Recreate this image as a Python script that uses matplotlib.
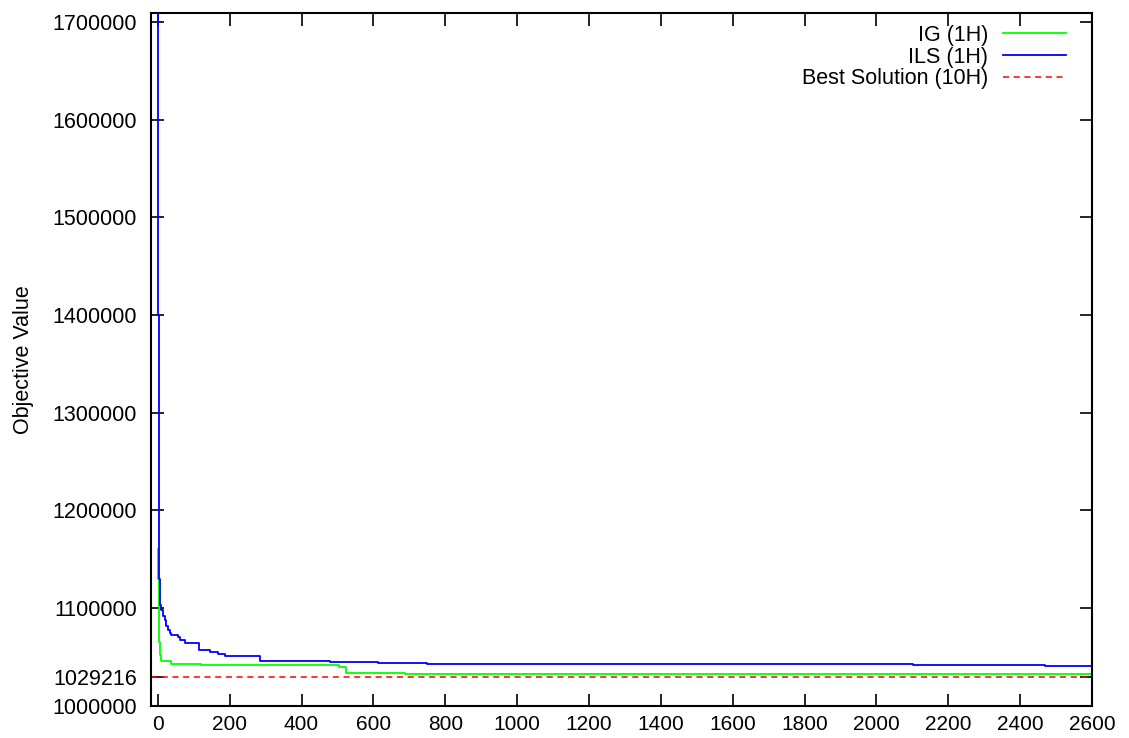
import matplotlib
matplotlib.use("Agg")
import matplotlib.pyplot as plt

# ---- data ----
ig_time = [0, 1, 2, 3, 4, 6, 8, 36, 120, 223, 503, 524, 689, 2600]
ig_value = [1160000, 1130000, 1100000, 1080000, 1065000, 1052000, 1046000,
            1042400, 1042000, 1041300, 1039300, 1033800, 1032800, 1032800]

ils_time = [0, 1, 2, 3, 4, 5, 7, 10, 14, 19, 24, 29, 34, 38, 56, 61, 75,
            114, 145, 168, 187, 284, 479, 612, 748, 2103, 2470, 2600]
ils_value = [1720000, 1400000, 1250000, 1170000, 1130000, 1110000, 1103000,
             1098000, 1092000, 1087700, 1082000, 1077500, 1074000, 1072400,
             1070600, 1067200, 1063900, 1057000, 1054700, 1052900, 1050900,
             1046100, 1044700, 1043700, 1042200, 1041200, 1040700, 1040700]

best_solution = 1029216

labels = ["IG (1H)", "ILS (1H)", "Best Solution (10H)"]
y_ticks = [1000000, 1029216, 1100000, 1200000, 1300000, 1400000, 1500000,
           1600000, 1700000]
x_ticks = list(range(0, 2601, 200))

plt.rcParams['font.family'] = ['Liberation Sans', 'DejaVu Sans']
FS = 15.5

fig = plt.figure(figsize=(11.29, 7.38), dpi=100)
ax = fig.add_axes([151 / 1129, 1 - 705.7 / 738, (1092 - 151) / 1129,
                   (705.7 - 12.7) / 738])

ax.plot(ig_time, ig_value, drawstyle='steps-post', color='#00ff00', lw=1.3,
        label=labels[0])
ax.plot(ils_time, ils_value, drawstyle='steps-post', color='#0000ff', lw=1.3,
        label=labels[1])
ax.axhline(best_solution, color='#ff0000', lw=1.1, ls=(0, (4, 3)),
           label=labels[2])

ax.set_xlim(-19, 2600)
ax.set_ylim(1000000, 1709500)
ax.set_xticks(x_ticks)
ax.set_yticks(y_ticks)
ax.set_xticklabels([str(t) for t in x_ticks])
ax.set_yticklabels([str(t) for t in y_ticks])
ax.tick_params(direction='in', length=9, width=1.2, top=True, right=True)
ax.tick_params(axis='y', pad=10, labelsize=FS)
ax.tick_params(axis='x', pad=7, labelsize=15)
for s in ax.spines.values():
    s.set_linewidth(1.5)

ax.set_ylabel("Objective Value", fontsize=FS)
ax.yaxis.set_label_coords(-0.1243, 0.5)

leg = ax.legend(loc='upper right', frameon=False, markerfirst=False,
                fontsize=FS, handlelength=2.9, handletextpad=0.7,
                labelspacing=0.03, borderaxespad=0.3,
                bbox_to_anchor=(0.988, 1.004))

fig.savefig("out.png", dpi=100)
